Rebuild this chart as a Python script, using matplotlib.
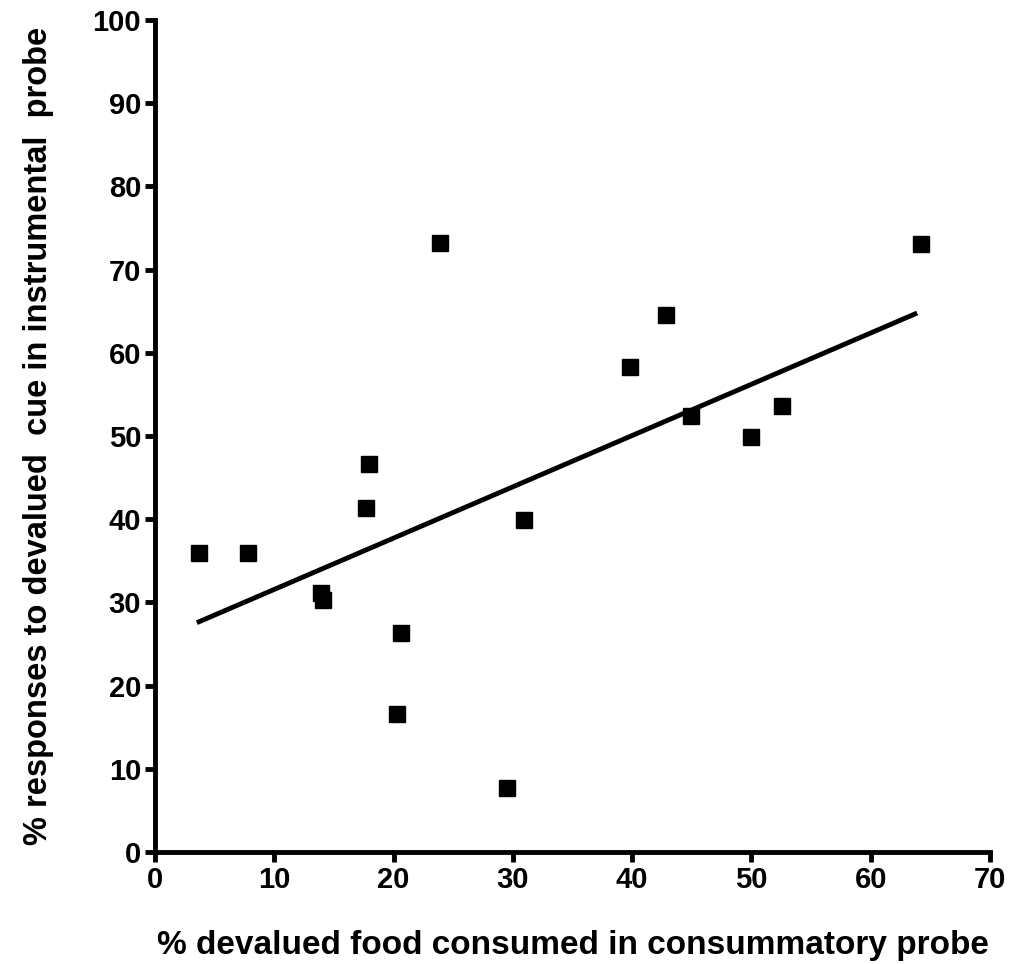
import numpy as np
from matplotlib import pyplot as plt

plt.rcParams['font.family'] = ['Liberation Sans', 'DejaVu Sans']
plt.rcParams['font.weight'] = 'bold'

# datos
consumido = [3.7, 7.8, 13.9, 14.1, 17.7, 17.9, 20.6, 20.3, 23.9, 29.5,
             30.9, 39.8, 42.8, 44.9, 50.0, 52.6, 64.2]
respuestas = [35.9, 35.9, 31.1, 30.3, 41.3, 46.6, 26.3, 16.6, 73.2, 7.7,
              39.9, 58.3, 64.5, 52.4, 49.9, 53.6, 73.1]

# recta de regresion (extremos del rango de x)
pendiente, ordenada = np.polyfit(consumido, respuestas, 1)
xr = np.array([min(consumido), 63.7])

fig = plt.figure(figsize=(10.17, 9.64), dpi=100)
ax = fig.add_axes([0.1524, 0.1162, 0.8211, 0.8631])

ax.plot(consumido, respuestas, 's', color='black', markersize=11.5)
ax.plot(xr, pendiente * xr + ordenada, color='black', lw=3.5)

ax.set_xlim(0, 70)
ax.set_ylim(0, 100)
ax.set_xticks(range(0, 71, 10))
ax.set_yticks(range(0, 101, 10))

for s in ['top', 'right']:
    ax.spines[s].set_visible(False)
for s in ['left', 'bottom']:
    ax.spines[s].set_linewidth(3.5)
ax.tick_params(width=3.5, length=7, labelsize=21, pad=3)

ax.set_xlabel('% devalued food consumed in consummatory probe', fontsize=24, fontweight='bold', labelpad=26)
ax.set_ylabel('% responses to devalued  cue in instrumental  probe', fontsize=23.5, fontweight='bold', labelpad=28)

fig.savefig('out.png', dpi=100)
